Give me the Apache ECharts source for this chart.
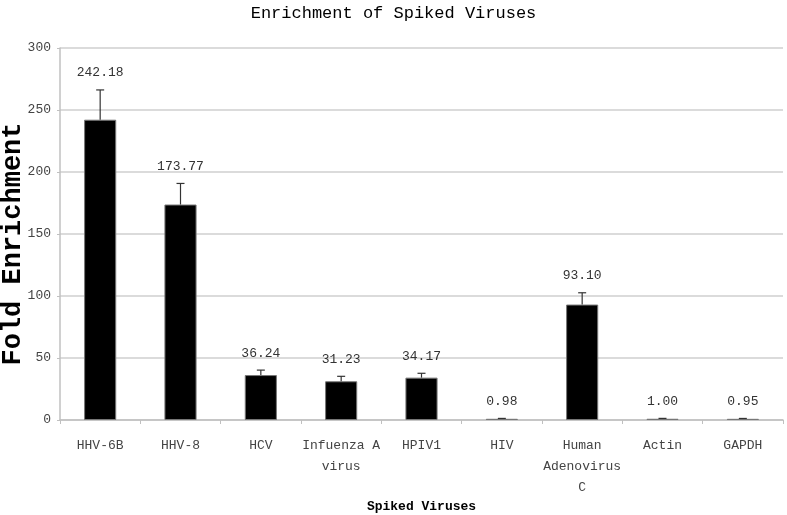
<!DOCTYPE html>
<html><head><meta charset="utf-8">
<script src="https://cdn.jsdelivr.net/npm/echarts@6/dist/echarts.min.js"></script>
<style>html,body{margin:0;padding:0;background:#fff}#c{width:787px;height:515px}</style>
</head><body><div id="c"></div>
<script>
const categories = ['HHV-6B','HHV-8','HCV','Infuenza A\nvirus','HPIV1','HIV','Human\nAdenovirus\nC','Actin','GAPDH'];
const values = [242.18, 173.77, 36.24, 31.23, 34.17, 0.98, 93.10, 1.00, 0.95];
const errors = [24, 17, 4, 4, 3.5, 0.3, 9.5, 0.3, 0.3];
const labels = ['242.18','173.77','36.24','31.23','34.17','0.98','93.10','1.00','0.95'];
const yTicks = [0, 50, 100, 150, 200, 250, 300];

const FONT = '"Liberation Mono", "DejaVu Sans Mono", monospace';
const chart = echarts.init(document.getElementById('c'));
chart.setOption({
  animation: false,
  title: {
    text: 'Enrichment of Spiked Viruses', left: 'center', top: 0,
    textStyle: { fontFamily: FONT, fontSize: 17, fontWeight: 'normal', color: '#000' }
  },
  grid: { left: 60, right: 4, top: 48, bottom: 95, containLabel: false, outerBoundsMode: 'none' },
  xAxis: {
    type: 'category', data: categories,
    name: 'Spiked Viruses', nameLocation: 'middle', nameGap: 80, nameMoveOverlap: false,
    nameTextStyle: { fontFamily: FONT, fontSize: 13, fontWeight: 'bold', color: '#000' },
    axisLine: { lineStyle: { color: '#c0c0c0', width: 1.5 } },
    axisTick: { show: true, length: 4, lineStyle: { color: '#c0c0c0' } },
    axisLabel: { interval: 0, fontFamily: FONT, fontSize: 13, color: '#444', margin: 15, lineHeight: 21 }
  },
  yAxis: {
    type: 'value', min: 0, max: 300, interval: 50,
    name: 'Fold Enrichment', nameLocation: 'middle', nameGap: 33, nameRotate: 90, nameMoveOverlap: false,
    nameTextStyle: { fontFamily: FONT, fontSize: 27, fontWeight: 'bold', color: '#000', padding: [0, 20, 0, 0] },
    axisLine: { show: true, lineStyle: { color: '#c0c0c0', width: 1.5 } },
    axisTick: { show: true, length: 3, inside: false, lineStyle: { color: '#c0c0c0' } },
    axisLabel: { fontFamily: FONT, fontSize: 13, color: '#444', margin: 9,
      formatter: v => yTicks.includes(v) ? String(v) : '' },
    splitLine: { lineStyle: { color: '#cfcfcf', width: 1.5 } }
  },
  series: [
    {
      type: 'bar', data: values, barWidth: '40%',
      itemStyle: { color: '#000', borderColor: '#777', borderWidth: 1 }
    },
    {
      type: 'custom', data: values.map((v, i) => [i, v, errors[i]]),
      renderItem: function (params, api) {
        const i = api.value(0), v = api.value(1), e = api.value(2);
        const base = api.coord([i, v]);
        const top = api.coord([i, v + e]);
        const cap = 4;
        return {
          type: 'group',
          children: [
            { type: 'line', shape: { x1: base[0], y1: base[1], x2: top[0], y2: top[1] },
              style: { stroke: '#333', lineWidth: 1.2 } },
            { type: 'line', shape: { x1: top[0] - cap, y1: top[1], x2: top[0] + cap, y2: top[1] },
              style: { stroke: '#333', lineWidth: 1.2 } },
            { type: 'text', x: top[0], y: top[1] - 17,
              style: { text: labels[params.dataIndex], fontFamily: FONT, fontSize: 13,
                fill: '#333', align: 'center', verticalAlign: 'middle' } }
          ]
        };
      },
      z: 5
    }
  ]
});
</script></body></html>
